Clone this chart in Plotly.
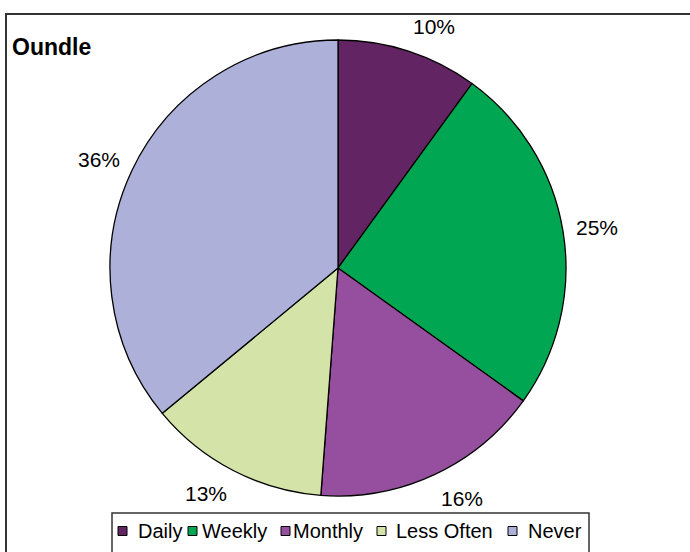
import math
import plotly.graph_objects as go

categories = ["Daily", "Weekly", "Monthly", "Less Often", "Never"]
values = [10.0, 24.9, 16.3, 12.8, 36.0]
colors = ["#632463", "#00A651", "#954F9E", "#D4E4A8", "#ADB0D9"]
title_text = "Oundle"

W, H = 690, 552
FONT = "Liberation Sans, Arial, Helvetica"

# layout constants (pixels)
CX, CY, R = 338, 268, 228
LABEL_R = 240
LABEL_HALF_W, LABEL_HALF_H = 22, 14
legend_sq_x = [118, 188, 281, 377, 508]
legend_txt_x = [136, 200, 291, 394, 526]
LEG_Y = 531


def px(x):
    return x / W


def py(y):
    return 1 - y / H


fig = go.Figure(go.Pie(
    labels=categories,
    values=values,
    sort=False,
    direction="clockwise",
    rotation=0,
    marker=dict(colors=colors, line=dict(color="black", width=1.3)),
    textinfo="none",
    domain=dict(x=[px(CX - R), px(CX + R)], y=[py(CY + R), py(CY - R)]),
    hoverinfo="label+percent",
    showlegend=False,
))

annotations = [dict(
    text="<b>" + title_text + "</b>",
    x=px(10), y=py(47), xref="paper", yref="paper",
    xanchor="left", yanchor="middle", showarrow=False,
    font=dict(family=FONT, size=23, color="black"),
)]

# percentage labels placed just outside each slice's mid-angle
total = sum(values)
cum = 0
for v in values:
    mid = (cum + v / 2) / total * 2 * math.pi
    cum += v
    ux, uy = math.sin(mid), -math.cos(mid)
    lx = CX + LABEL_R * ux + LABEL_HALF_W * (1 if ux >= 0 else -1)
    ly = CY + LABEL_R * uy + LABEL_HALF_H * uy
    annotations.append(dict(
        text=f"{round(v / total * 100)}%",
        x=px(lx), y=py(ly), xref="paper", yref="paper",
        xanchor="center", yanchor="middle", showarrow=False,
        font=dict(family=FONT, size=21, color="black"),
    ))

shapes = [
    dict(type="rect", xref="paper", yref="paper",
         x0=px(6), x1=1.05, y0=-0.05, y1=py(14),
         line=dict(color="#333333", width=2)),
    dict(type="rect", xref="paper", yref="paper",
         x0=px(112), x1=px(589), y0=-0.05, y1=py(513),
         line=dict(color="#333333", width=1.5), fillcolor="white", layer="below"),
]

for cat, col, sx, tx in zip(categories, colors, legend_sq_x, legend_txt_x):
    shapes.append(dict(type="rect", xref="paper", yref="paper",
                       x0=px(sx), x1=px(sx + 9), y0=py(LEG_Y + 4.5), y1=py(LEG_Y - 4.5),
                       line=dict(color="black", width=1), fillcolor=col))
    annotations.append(dict(
        text=cat, x=px(tx), y=py(LEG_Y), xref="paper", yref="paper",
        xanchor="left", yanchor="middle", showarrow=False,
        font=dict(family=FONT, size=20, color="black"),
    ))

fig.update_layout(
    width=W, height=H,
    margin=dict(l=0, r=0, t=0, b=0),
    paper_bgcolor="white",
    plot_bgcolor="white",
    showlegend=False,
    annotations=annotations,
    shapes=shapes,
)

fig.write_html("out.html", config={"displayModeBar": False},
               post_script="document.body.style.margin='0';")
